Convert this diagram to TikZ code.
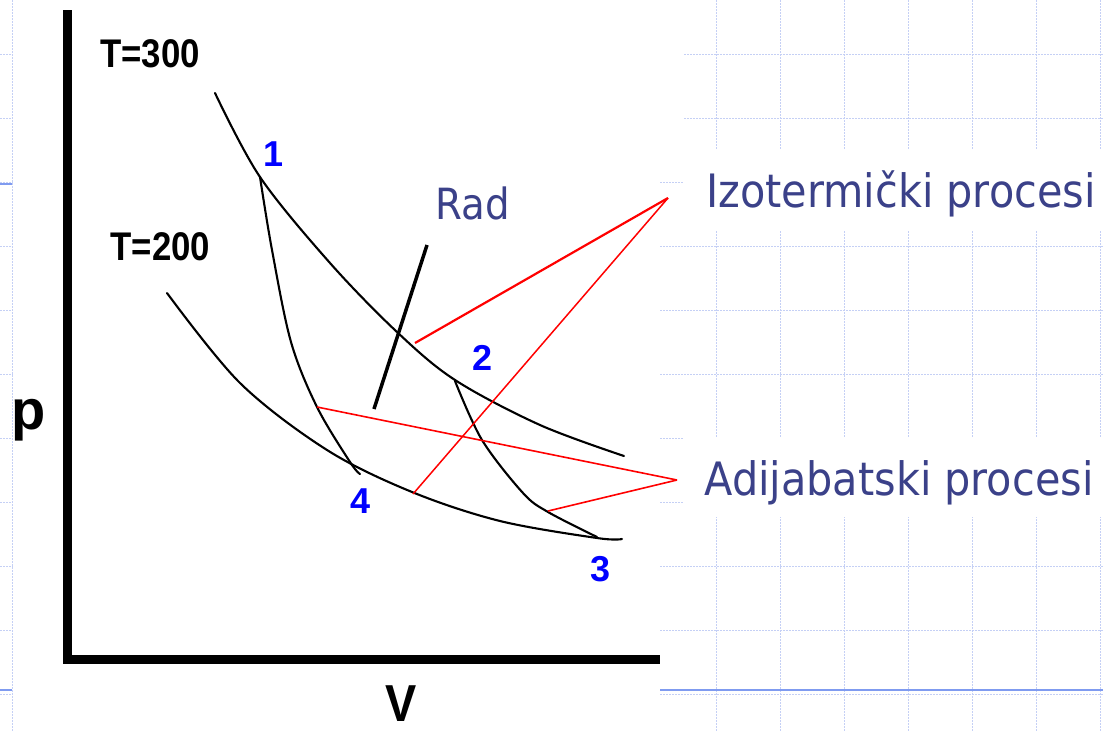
\documentclass[tikz,border=0pt]{standalone}
\usepackage{fontspec}
\setmainfont{Liberation Sans}
\newfontfamily\slidefont{DejaVu Sans Condensed}
\definecolor{gridc}{HTML}{C5D0F5}
\definecolor{slide}{HTML}{7F9BF0}
\definecolor{txt}{HTML}{3B4189}
\definecolor{num}{HTML}{0000FF}
\begin{document}
\begin{tikzpicture}[x=1pt,y=-1pt,
  gridline/.style={gridc, line width=0.8pt, dash pattern=on 2pt off 1pt},
  slideline/.style={slide, line width=1.8pt},
  curve/.style={line width=2.1pt, line join=round, line cap=round},
  axis/.style={line width=8.5pt},
  redline/.style={red, line width=1.6pt},
  numlab/.style={num, inner sep=0pt, anchor=base, font=\fontsize{36}{40}\selectfont\bfseries},
  templab/.style={inner sep=0pt, anchor=base, font=\fontsize{40}{44}\selectfont\bfseries},
  axlab/.style={inner sep=0pt, anchor=base, font=\fontsize{56}{60}\selectfont\bfseries},
  slidetext/.style={txt, inner sep=0pt, anchor=base, font=\slidefont\fontsize{46}{50}\selectfont}]
\useasboundingbox (0,0) rectangle (1103,731);
\fill[white] (0,0) rectangle (1103,731);
% background grid
\foreach \k in {0,...,17} \draw[gridline] (12+64*\k,0) -- (12+64*\k,731);
\foreach \k in {0,...,10} \draw[gridline] (0,54.6+64*\k) -- (1103,54.6+64*\k);
% white image areas
\fill[white] (13,0) rectangle (660,731);
\fill[white] (660,0) rectangle (683,150);
\fill[white] (683,150) rectangle (1103,230);
\fill[white] (683,438) rectangle (1103,517);
% slide template lines
\draw[slideline] (0,184) -- (12,184);
\draw[slideline] (0,690) -- (12,690);
\draw[slideline] (660,690) -- (1103,690);
% axes
\coordinate (top) at (67.5,10);
\coordinate (origin) at (67.5,659.5);
\coordinate (right) at (660,659.5);
\draw[axis] (top) -- (origin) -- (right);
% isotherms
\draw[curve] plot[smooth, tension=0.55] coordinates {(215,93) (260,177) (330,263) (397,332) (455,380) (540,425) (624,456)};
\draw[curve] plot[smooth, tension=0.55] coordinates {(167,293) (240,383) (327,450) (412,492) (500,521) (597,538) (622,539)};
% adiabats
\draw[curve] plot[smooth, tension=0.55] coordinates {(260,177) (272,250) (291,342) (317,407) (350,462) (360,474)};
\draw[curve] plot[smooth, tension=0.55] coordinates {(455,381) (482,440) (523,493) (548,512) (597,537)};
% work line
\coordinate (radA) at (427,245);
\coordinate (radB) at (374,409);
\draw[line width=3.5pt] (radA) -- (radB);
% labels
\node[templab] (t300) at (150,67) {\scalebox{0.87}[1]{T=300}};
\node[templab] (t200) at (160.5,260) {\scalebox{0.87}[1]{T=200}};
\node[axlab] (plab) at (29,429) {p};
\node[axlab, font=\fontsize{52}{56}\selectfont\bfseries] (vlab) at (401.5,721) {\scalebox{0.9}[1]{V}};
\node[numlab] (n1) at (274,166) {1};
\node[numlab] (n2) at (483,370) {2};
\node[numlab] (n4) at (361,513) {4};
\node[numlab] (n3) at (601,581) {3};
\node[slidetext, font=\slidefont\fontsize{43}{47}\selectfont] (rad) at (472.5,219) {Rad};
\node[slidetext] (izo) at (901,207) {Izotermički procesi};
\node[slidetext] (adi) at (899,495) {Adijabatski procesi};
% red pointer lines
\coordinate (izoP) at (668,198);
\coordinate (adiP) at (677,480);
\coordinate (iso1) at (415,343);
\coordinate (iso2) at (413,494);
\coordinate (ad1) at (317,407);
\coordinate (ad2) at (548,511);
\draw[redline, line width=2.2pt] (izoP) -- (iso1);
\draw[redline, line width=1.5pt] (izoP) -- (iso2);
\draw[redline] (adiP) -- (ad1);
\draw[redline] (adiP) -- (ad2);
\end{tikzpicture}
\end{document}
